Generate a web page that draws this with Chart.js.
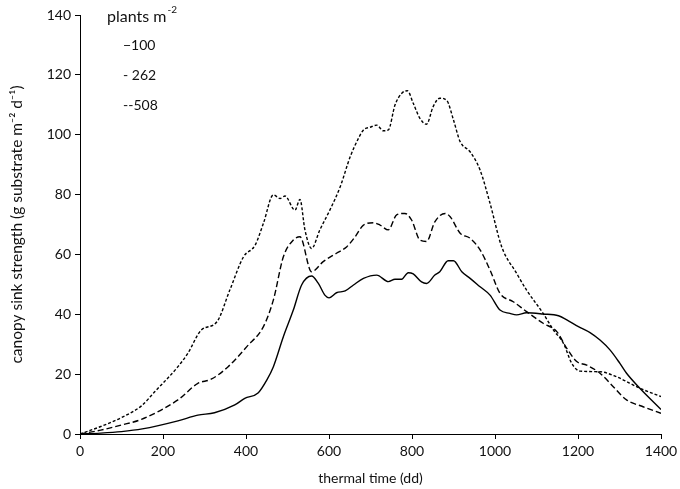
<!DOCTYPE html>
<html>
<head>
<meta charset="utf-8">
<script src="https://cdn.jsdelivr.net/npm/chart.js@4/dist/chart.umd.min.js"></script>
<style>
    html, body { margin: 0; padding: 0; background: #fff; }
</style>
</head>
<body>
<canvas id="sink-chart" width="680" height="489"></canvas>
<script>
// thermal time (dd) and canopy sink strength
var time100 = [0, 50, 100, 150, 236, 284, 324, 373, 397, 429, 450, 466, 490, 514, 534, 558, 574, 590, 600, 618, 639, 659, 683, 715, 743, 759, 775, 791, 803, 823, 835, 855, 867, 887, 900, 920, 940, 964, 988, 1012, 1036, 1052, 1076, 1116, 1153, 1173, 1201, 1229, 1253, 1277, 1301, 1317, 1349, 1400];
var sink100 = [0, 0.3, 0.8, 1.7, 4.4, 6.3, 7.1, 9.7, 11.9, 13.7, 18, 22.5, 32.5, 41.4, 49.8, 52.8, 50.4, 46.4, 45.5, 47.2, 47.8, 49.8, 52, 53.1, 50.9, 51.7, 51.7, 53.9, 53.5, 50.8, 50.3, 53.1, 54.2, 57.9, 57.9, 54.2, 52, 49.2, 46.4, 41.4, 40.3, 39.8, 40.5, 40.1, 39.5, 38.1, 35.9, 33.9, 31.4, 28.1, 23.6, 20.3, 15.3, 8.2];

var time262 = [0, 50, 100, 148, 236, 284, 316, 357, 402, 442, 466, 490, 514, 530, 558, 586, 618, 643, 663, 683, 707, 723, 743, 763, 783, 799, 819, 835, 855, 880, 892, 916, 940, 964, 988, 1012, 1044, 1076, 1116, 1149, 1173, 1197, 1221, 1253, 1285, 1317, 1357, 1400];
var sink262 = [0, 1.3, 3, 4.9, 11.4, 16.9, 18.3, 22.5, 29.2, 35.9, 44.8, 59.2, 64.8, 65.9, 54.2, 57.6, 60.4, 62.6, 65.9, 69.8, 70.6, 69.8, 68.2, 73.2, 73.7, 71.5, 64.8, 64.3, 70.9, 73.7, 72.6, 67.1, 65.4, 61.5, 54.8, 47, 44.2, 40.9, 37, 34.2, 28.6, 24.2, 23, 20.3, 15.8, 11.4, 9.1, 6.9];

var time508 = [0, 50, 100, 148, 180, 236, 260, 292, 330, 361, 394, 422, 442, 466, 482, 494, 518, 530, 542, 558, 578, 602, 627, 651, 671, 683, 699, 715, 731, 743, 759, 775, 789, 803, 819, 835, 851, 867, 884, 900, 916, 940, 964, 988, 1016, 1052, 1076, 1116, 1141, 1165, 1185, 1205, 1253, 1293, 1349, 1400];
var sink508 = [0, 2.5, 5.5, 9.4, 14.1, 22.5, 27, 34.7, 37.5, 48.1, 59.2, 63.1, 70.4, 79.9, 78.7, 79.5, 74.8, 78.4, 68.2, 62, 68.2, 74.8, 82.6, 92.6, 98.8, 101.6, 102.5, 103.2, 101.3, 101.6, 109.9, 113.8, 114.7, 110.5, 105.5, 103.5, 109.4, 112.2, 111.4, 104.9, 97.7, 94.3, 88.2, 77.1, 62.6, 53.7, 48.1, 40.3, 34.7, 30.3, 23.6, 21, 20.8, 19.1, 15.3, 12.5];

// axis ticks
var xTickLabels = [0, 200, 400, 600, 800, 1000, 1200, 1400];
var yTickLabels = [0, 20, 40, 60, 80, 100, 120, 140];

var legendTitle = "plants m";
var legendLabels = ["\u2212100", "- 262", "--508"];

var FONT = "Lato, 'Open Sans', sans-serif";
var INK = "#111";

function toPoints(xs, ys) {
    return xs.map(function (x, i) { return { x: x, y: ys[i] }; });
}

// text legend in the top left corner, like the original
var textLegend = {
    id: "textLegend",
    afterDraw: function (chart) {
        var ctx = chart.ctx;
        ctx.save();
        ctx.fillStyle = INK;
        ctx.textBaseline = "middle";
        ctx.font = "16px " + FONT;
        ctx.fillText(legendTitle, 107, 17);
        var w = ctx.measureText(legendTitle).width;
        ctx.font = "10px " + FONT;
        ctx.fillText("-2", 107 + w + 1, 10);
        ctx.font = "14px " + FONT;
        legendLabels.forEach(function (lbl, i) {
            ctx.fillText(lbl, 123, 45 + i * 30);
        });
        ctx.restore();
    }
};

var ctx = document.getElementById("sink-chart").getContext("2d");
var chart = new Chart(ctx, {
    type: "line",
    data: {
        datasets: [{
            label: "100",
            data: toPoints(time100, sink100),
            borderColor: "#000",
            borderWidth: 1.4
        }, {
            label: "262",
            data: toPoints(time262, sink262),
            borderColor: "#000",
            borderWidth: 1.4,
            borderDash: [6, 3]
        }, {
            label: "508",
            data: toPoints(time508, sink508),
            borderColor: "#000",
            borderWidth: 1.4,
            borderDash: [3, 2]
        }]
    },
    options: {
        responsive: false,
        animation: false,
        layout: { padding: { top: 15, right: 19, left: 0, bottom: 0 } },
        elements: {
            point: { radius: 0 },
            line: { cubicInterpolationMode: "monotone", fill: false }
        },
        plugins: {
            legend: { display: false },
            tooltip: { enabled: false }
        },
        scales: {
            x: {
                type: "linear",
                min: xTickLabels[0],
                max: xTickLabels[xTickLabels.length - 1],
                afterBuildTicks: function (scale) {
                    scale.ticks = xTickLabels.map(function (v) { return { value: v }; });
                },
                afterFit: function (scale) {
                    scale.height = 55;
                    scale.paddingLeft = 0;
                    scale.paddingRight = 0;
                },
                border: { color: "#000", width: 1 },
                grid: { drawOnChartArea: false, color: "#000", tickLength: 5 },
                ticks: {
                    color: INK,
                    font: { family: FONT, size: 14 },
                    padding: 4,
                    maxRotation: 0,
                    callback: function (value) { return String(value); }
                },
                title: {
                    display: true,
                    text: "thermal time (dd)",
                    color: INK,
                    font: { family: FONT, size: 14 },
                    padding: { top: 0, bottom: 2 }
                }
            },
            y: {
                min: yTickLabels[0],
                max: yTickLabels[yTickLabels.length - 1],
                afterBuildTicks: function (scale) {
                    scale.ticks = yTickLabels.map(function (v) { return { value: v }; });
                },
                afterFit: function (scale) {
                    scale.width = 80;
                    scale.paddingTop = 0;
                    scale.paddingBottom = 0;
                },
                border: { color: "#000", width: 1 },
                grid: { drawOnChartArea: false, color: "#000", tickLength: 5 },
                ticks: {
                    color: INK,
                    font: { family: FONT, size: 14 },
                    padding: 4,
                    callback: function (value) { return String(value); }
                },
                title: {
                    display: true,
                    text: "canopy sink strength (g substrate m\u207B\u00B2 d\u207B\u00B9)",
                    color: INK,
                    font: { family: FONT, size: 15.5 },
                    padding: { top: 8, bottom: 0 }
                }
            }
        }
    },
    plugins: [textLegend]
});
</script>
</body>
</html>
